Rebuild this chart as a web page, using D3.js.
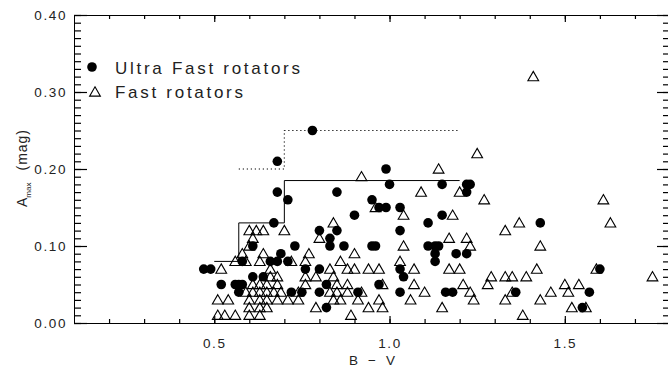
<!DOCTYPE html>
<html>
<head>
<meta charset="utf-8">
<script src="https://cdn.jsdelivr.net/npm/d3@7"></script>
<style>
  body { margin: 0; background: #fff; }
  svg { display: block; }
  text { font-family: "Liberation Sans", Arial, sans-serif; fill: #222; }
</style>
</head>
<body>
<svg id="chart" width="668" height="369"></svg>
<script>
// Ultra Fast rotators (filled circles)
const ufBV = [0.78, 0.68, 0.68, 0.71, 0.85, 0.67, 0.80, 0.85, 0.83, 0.61,
  0.73, 0.83, 0.87, 0.69, 0.58, 0.66, 0.68, 0.71, 0.47, 0.49,
  0.76, 0.80, 0.61, 0.64, 0.52, 0.56, 0.57, 0.58, 0.57, 0.82,
  0.72, 0.75, 0.80, 0.82, 0.99, 1.00, 0.95, 0.97, 0.99, 1.03,
  0.90, 1.03, 0.95, 0.96, 1.03, 1.04, 0.97, 0.91, 1.03, 1.15,
  1.22, 1.23, 1.22, 1.15, 1.11, 1.11, 1.13, 1.14, 1.13, 1.19,
  1.22, 1.13, 1.16, 1.18, 1.43, 1.60, 1.57, 1.36, 1.55];
const ufAmp = [0.25, 0.21, 0.17, 0.16, 0.17, 0.13, 0.12, 0.12, 0.11, 0.10,
  0.10, 0.10, 0.10, 0.09, 0.08, 0.08, 0.08, 0.08, 0.07, 0.07,
  0.07, 0.07, 0.06, 0.06, 0.05, 0.05, 0.05, 0.05, 0.04, 0.05,
  0.04, 0.04, 0.04, 0.02, 0.20, 0.18, 0.16, 0.15, 0.15, 0.15,
  0.14, 0.12, 0.10, 0.10, 0.07, 0.06, 0.05, 0.04, 0.04, 0.18,
  0.18, 0.18, 0.17, 0.14, 0.13, 0.10, 0.10, 0.10, 0.09, 0.09,
  0.09, 0.08, 0.04, 0.04, 0.13, 0.07, 0.04, 0.04, 0.02];

// Fast rotators (open triangles)
const frBV = [1.41, 1.25, 1.14, 0.92, 1.09, 1.20, 1.27, 1.61, 0.96, 1.04,
  1.18, 0.84, 1.37, 1.63, 0.60, 0.62, 0.64, 0.70, 1.33,
  0.61, 0.80, 1.17, 1.22,
  0.60, 1.04, 1.23, 1.43,
  0.58, 0.64, 0.77, 0.90,
  0.56, 0.59, 0.63, 0.72, 0.76, 0.86, 1.03,
  0.52, 0.66, 0.83, 0.88, 0.90, 0.94, 0.97, 1.07, 1.17, 1.20, 1.42, 1.59,
  0.66, 0.68, 0.76, 0.79, 0.84, 1.29, 1.33, 1.35, 1.39, 1.75,
  0.61, 0.63, 0.65, 0.68, 0.76, 0.85, 0.88, 0.98, 1.07, 1.21, 1.28, 1.50, 1.54,
  0.59, 0.61, 0.63, 0.65, 0.67, 0.69, 0.74, 0.83, 0.85, 0.88, 0.92, 1.10, 1.23, 1.35, 1.46, 1.51,
  0.51, 0.54, 0.60, 0.63, 0.65, 0.68, 0.71, 0.74, 0.84, 0.86, 0.91, 0.97, 1.06, 1.24, 1.33, 1.43,
  0.60, 0.63, 0.65, 0.79, 0.94, 0.98, 1.15, 1.52, 1.56,
  0.51, 0.53, 0.56, 0.60, 0.63, 0.89, 1.38];
const frAmp = [0.32, 0.22, 0.20, 0.19, 0.17, 0.17, 0.16, 0.16, 0.15, 0.14,
  0.14, 0.13, 0.13, 0.13, 0.12, 0.12, 0.12, 0.12, 0.12,
  0.11, 0.11, 0.11, 0.11,
  0.10, 0.10, 0.10, 0.10,
  0.09, 0.09, 0.09, 0.09,
  0.08, 0.08, 0.08, 0.08, 0.08, 0.08, 0.08,
  0.07, 0.07, 0.07, 0.07, 0.07, 0.07, 0.07, 0.07, 0.07, 0.07, 0.07, 0.07,
  0.06, 0.06, 0.06, 0.06, 0.06, 0.06, 0.06, 0.06, 0.06, 0.06,
  0.05, 0.05, 0.05, 0.05, 0.05, 0.05, 0.05, 0.05, 0.05, 0.05, 0.05, 0.05, 0.05,
  0.04, 0.04, 0.04, 0.04, 0.04, 0.04, 0.04, 0.04, 0.04, 0.04, 0.04, 0.04, 0.04, 0.04, 0.04, 0.04,
  0.03, 0.03, 0.03, 0.03, 0.03, 0.03, 0.03, 0.03, 0.03, 0.03, 0.03, 0.03, 0.03, 0.03, 0.03, 0.03,
  0.02, 0.02, 0.02, 0.02, 0.02, 0.02, 0.02, 0.02, 0.02,
  0.01, 0.01, 0.01, 0.01, 0.01, 0.01, 0.01];

// upper envelopes
const solidBV = [0.50, 0.57, 0.57, 0.70, 0.70, 1.20];
const solidAmp = [0.08, 0.08, 0.13, 0.13, 0.185, 0.185];
const dottedBV = [0.57, 0.70, 0.70, 1.20];
const dottedAmp = [0.20, 0.20, 0.25, 0.25];

const xMajor = [0.5, 1.0, 1.5];
const yMajor = [0.0, 0.1, 0.2, 0.3, 0.4];

const plotLeft = 74, plotRight = 670, plotTop = 15, plotBottom = 323;

const svg = d3.select('#chart');

var x = d3.scaleLinear().domain([0.1, 1.8]).range([plotLeft, plotRight]);
var y = d3.scaleLinear().domain([0, 0.4]).range([plotBottom, plotTop]);

// frame
svg.append('rect')
  .attr('x', plotLeft + 0.5).attr('y', plotTop + 0.5)
  .attr('width', plotRight - plotLeft).attr('height', plotBottom - plotTop)
  .attr('fill', 'none').attr('stroke', '#000').attr('stroke-width', 1);

var xMinor = d3.range(2, 18).map(d => d / 10);
var yMinor = d3.range(0, 41).map(d => d / 100);

// tick marks, drawn inward from all four sides
var ticks = svg.append('g').attr('stroke', '#000').attr('stroke-width', 1.2);

function yTicks(values, len) {
  ticks.selectAll(null).data(values).enter().append('line')
    .attr('x1', plotLeft).attr('x2', plotLeft + len)
    .attr('y1', d => y(d) + 0.5).attr('y2', d => y(d) + 0.5);
  ticks.selectAll(null).data(values).enter().append('line')
    .attr('x1', plotRight).attr('x2', plotRight - len)
    .attr('y1', d => y(d) + 0.5).attr('y2', d => y(d) + 0.5);
}
function xTicks(values, len) {
  ticks.selectAll(null).data(values).enter().append('line')
    .attr('x1', d => x(d) + 0.5).attr('x2', d => x(d) + 0.5)
    .attr('y1', plotBottom).attr('y2', plotBottom - len);
  ticks.selectAll(null).data(values).enter().append('line')
    .attr('x1', d => x(d) + 0.5).attr('x2', d => x(d) + 0.5)
    .attr('y1', plotTop).attr('y2', plotTop + len);
}
yTicks(yMinor, 7);
yTicks(yMajor, 13);
xTicks(xMinor, 4);
xTicks(xMajor, 7);

// tick labels
function styleAxis(g) {
  g.select('.domain').remove();
  g.selectAll('text').attr('font-size', 13.5).attr('fill', '#222')
    .style('letter-spacing', '1.6px');
}
svg.append('g').attr('transform', `translate(0,${plotBottom})`)
  .call(d3.axisBottom(x).tickValues(xMajor).tickSize(0).tickPadding(15)
    .tickFormat(d3.format('.1f')))
  .call(styleAxis);
svg.append('g').attr('transform', `translate(${plotLeft},0)`)
  .call(d3.axisLeft(y).tickValues(yMajor).tickSize(0).tickPadding(7)
    .tickFormat(d3.format('.2f')))
  .call(styleAxis);

// axis titles
svg.append('text')
  .attr('x', 372).attr('y', 365)
  .attr('text-anchor', 'middle')
  .attr('font-size', 13.5)
  .attr('textLength', 46)
  .text('B \u2212 V');

var yTitle = svg.append('text')
  .attr('transform', 'translate(27,207) rotate(-90)')
  .attr('font-size', 14);
yTitle.append('tspan').text('A');
yTitle.append('tspan').attr('font-size', 8).attr('dy', 4).text('max');
yTitle.append('tspan').attr('dy', -4).attr('dx', 12).text('(mag)')
  .style('letter-spacing', '1px');

// limit lines
var line = d3.line().x(d => x(d[0])).y(d => y(d[1]));
svg.append('path')
  .attr('d', line(d3.zip(solidBV, solidAmp)))
  .attr('fill', 'none').attr('stroke', '#000').attr('stroke-width', 1);
svg.append('path')
  .attr('d', line(d3.zip(dottedBV, dottedAmp)))
  .attr('fill', 'none').attr('stroke', '#000').attr('stroke-width', 1.2)
  .attr('stroke-dasharray', '1.2,2.8');

// markers
var tri = d3.symbol().type(d3.symbolTriangle).size(50);

svg.append('g').selectAll('path')
  .data(d3.zip(frBV, frAmp))
  .enter()
  .append('path')
  .attr('d', tri)
  .attr('transform', d => `translate(${x(d[0])},${y(d[1]) + 1})`)
  .attr('fill', 'none').attr('stroke', '#000').attr('stroke-width', 1.1);

svg.append('g').selectAll('circle')
  .data(d3.zip(ufBV, ufAmp))
  .enter()
  .append('circle')
  .attr('cx', d => x(d[0]))
  .attr('cy', d => y(d[1]))
  .attr('r', 4.8)
  .attr('fill', '#000');

// legend
svg.append('circle').attr('cx', 92).attr('cy', 67).attr('r', 4.8).attr('fill', '#000');
svg.append('path').attr('d', tri)
  .attr('transform', 'translate(95,93)')
  .attr('fill', 'none').attr('stroke', '#000').attr('stroke-width', 1.1);
svg.append('text').attr('x', 115).attr('y', 74)
  .attr('font-size', 17).attr('textLength', 185)
  .text('Ultra Fast rotators');
svg.append('text').attr('x', 115).attr('y', 98)
  .attr('font-size', 17).attr('textLength', 128)
  .text('Fast rotators');
</script>
</body>
</html>
